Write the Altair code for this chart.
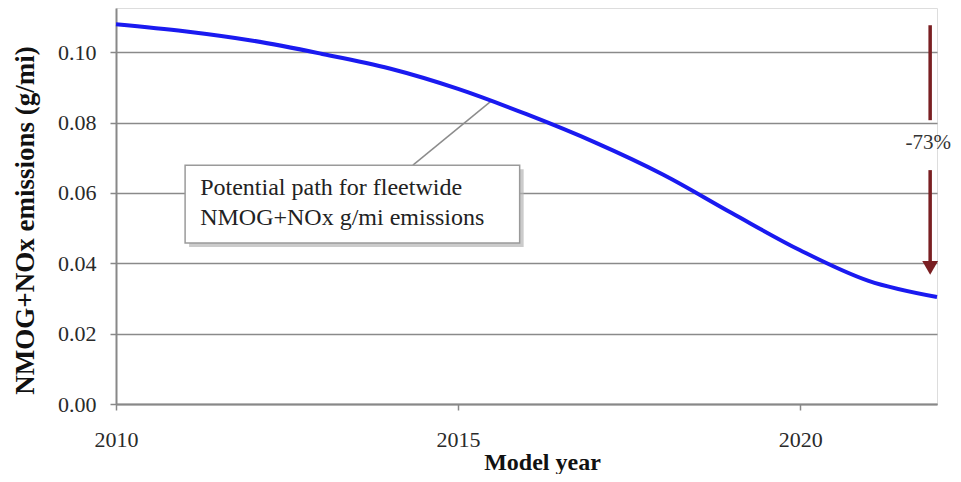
import altair as alt
import pandas as pd

# ---- data ----
years = [2010, 2011, 2012, 2013, 2014, 2015, 2016, 2017, 2018, 2019, 2020, 2021, 2022]
emissions = [0.1080, 0.1060, 0.1033, 0.0996, 0.0954, 0.0896, 0.0824, 0.0744, 0.0652,
             0.0543, 0.0437, 0.0350, 0.0304]

x_ticks = [2010, 2015, 2020]
y_ticks = [0.00, 0.02, 0.04, 0.06, 0.08, 0.10]

# annotation callout (data units)
note_lines = ["Potential path for fleetwide", "NMOG+NOx g/mi emissions"]
note_x = [2011.23, 2011.23]
note_y = [0.0614, 0.0529]
box_x = [2011.01, 2015.90]
box_y = [0.0458, 0.0679]
leader_x = [2014.34, 2015.50]
leader_y = [0.0679, 0.0864]

# reduction arrow
arrow_x = 2021.90
arrow_top = [0.1077, 0.0665]
arrow_bottom = [0.0807, 0.0404]
arrow_tip_y = 0.0387
change_label = "-73%"
change_label_y = 0.0742

FONT = "Liberation Serif"
ARROW_COLOR = "#7a1f22"
GRID = "#8a8a8a"

df = pd.DataFrame({"year": years, "value": emissions})

x_scale = alt.Scale(domain=[2010, 2022], nice=False, zero=False)
y_scale = alt.Scale(domain=[0, 0.1126], nice=False)

x_axis = alt.Axis(
    values=x_ticks, format="d", title="Model year", grid=False,
    domainColor="#888", domainWidth=2, tickColor="#888", tickSize=6, tickWidth=1.5,
    labelFont=FONT, labelFontSize=22, labelColor="#2a2a2a", labelPadding=19, labelFlush=False,
    titleFont=FONT, titleFontSize=24, titleFontWeight="bold", titleColor="#111",
    titleX=426, titleY=65, titleBaseline="alphabetic", titleAlign="center",
)
y_axis = alt.Axis(
    values=y_ticks, format=".2f", title="NMOG+NOx emissions (g/mi)",
    grid=True, gridColor=GRID, gridWidth=1.5,
    domainColor="#888", domainWidth=2, tickColor="#888", tickSize=6, tickWidth=1.5,
    labelFont=FONT, labelFontSize=22, labelColor="#2a2a2a", labelPadding=14,
    titleFont=FONT, titleFontSize=27, titleFontWeight="bold", titleColor="#111",
    titleX=-83, titleY=212, titleBaseline="alphabetic", titleAlign="center",
)

line = alt.Chart(df).mark_line(color="#1a1af0", strokeWidth=4, interpolate="catmull-rom").encode(
    x=alt.X("year:Q", scale=x_scale, axis=x_axis),
    y=alt.Y("value:Q", scale=y_scale, axis=y_axis),
)

leader_df = pd.DataFrame({"x": leader_x, "y": leader_y})
leader = alt.Chart(leader_df).mark_line(color="#8c8c8c", strokeWidth=1.5).encode(
    x=alt.X("x:Q", scale=x_scale), y=alt.Y("y:Q", scale=y_scale)
)

box_df = pd.DataFrame({"x": [box_x[0]], "x2": [box_x[1]], "y": [box_y[0]], "y2": [box_y[1]]})
shadow = alt.Chart(box_df).mark_rect(
    color="#b5b5b5", opacity=0.7, xOffset=4, x2Offset=4, yOffset=4, y2Offset=4
).encode(x=alt.X("x:Q", scale=x_scale), x2="x2:Q", y=alt.Y("y:Q", scale=y_scale), y2="y2:Q")
box = alt.Chart(box_df).mark_rect(fill="white", stroke="#9a9a9a", strokeWidth=1.5).encode(
    x=alt.X("x:Q", scale=x_scale), x2="x2:Q", y=alt.Y("y:Q", scale=y_scale), y2="y2:Q"
)

note_df = pd.DataFrame({"x": note_x, "y": note_y, "t": note_lines})
note = alt.Chart(note_df).mark_text(
    align="left", baseline="middle", font=FONT, fontSize=24, color="#222"
).encode(x=alt.X("x:Q", scale=x_scale), y=alt.Y("y:Q", scale=y_scale), text="t:N")

seg_df = pd.DataFrame({"x": [arrow_x, arrow_x], "y": arrow_top, "y2": arrow_bottom})
arrow_shaft = alt.Chart(seg_df).mark_rule(color=ARROW_COLOR, strokeWidth=3.5).encode(
    x=alt.X("x:Q", scale=x_scale), y=alt.Y("y:Q", scale=y_scale), y2="y2:Q"
)
tip_df = pd.DataFrame({"x": [arrow_x], "y": [arrow_tip_y]})
arrow_head = alt.Chart(tip_df).mark_point(
    shape="triangle-down", filled=True, size=250, color=ARROW_COLOR, opacity=1
).encode(x=alt.X("x:Q", scale=x_scale), y=alt.Y("y:Q", scale=y_scale))

lab_df = pd.DataFrame({"x": [arrow_x], "y": [change_label_y], "t": [change_label]})
change = alt.Chart(lab_df).mark_text(
    align="center", baseline="middle", font=FONT, fontSize=21, color="#333", dx=-2
).encode(x=alt.X("x:Q", scale=x_scale), y=alt.Y("y:Q", scale=y_scale), text="t:N")

chart = alt.layer(
    leader, shadow, box, note, line, arrow_shaft, arrow_head, change
).properties(
    width=821, height=396,
    autosize=alt.AutoSizeParams(type="none"),
    padding={"left": 108, "top": 0, "right": 16, "bottom": 70},
).configure_view(stroke=None).configure(background="white")

chart.save("out.html", embed_options={"renderer": "svg", "actions": False})
